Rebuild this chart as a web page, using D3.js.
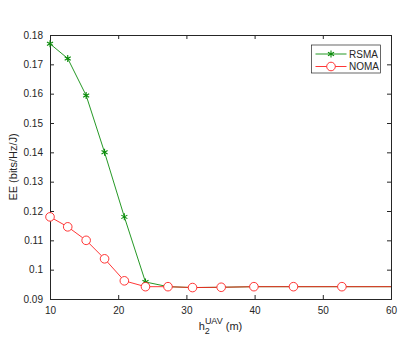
<!DOCTYPE html>
<html>
<head>
<meta charset="utf-8">
<script src="https://cdn.jsdelivr.net/npm/d3@7"></script>
<style>
  body { margin: 0; background: #fff; }
  text { font-family: "Liberation Sans", Arial, sans-serif; fill: #262626; }
</style>
</head>
<body>
<script>
// data
let heights = [10, 12.6, 15.3, 18.0, 20.9, 24.0, 27.3, 30.9, 35.1, 39.9, 45.7, 52.8, 61.3];
let rsma = [0.1770, 0.1720, 0.1594, 0.1400, 0.1180, 0.0958, 0.0942, 0.0939, 0.0940, 0.0942, 0.0942, 0.0942, 0.0942];
let noma = [0.1180, 0.1146, 0.1100, 0.1037, 0.0962, 0.0942, 0.0942, 0.0939, 0.0940, 0.0942, 0.0942, 0.0942, 0.0942];
let xTicks = [10, 20, 30, 40, 50, 60];
let yTicks = [0.09, 0.1, 0.11, 0.12, 0.13, 0.14, 0.15, 0.16, 0.17, 0.18];

let margin = {top: 35, right: 24, bottom: 48, left: 50},
    width = 415 - margin.left - margin.right,
    height = 347 - margin.top - margin.bottom;

let x = d3.scaleLinear().domain([10, 60]).range([0, width]);
let y = d3.scaleLinear().domain([0.09, 0.18]).range([height, 0]);

let svg = d3.select("body").append("svg")
    .attr("width", 415)
    .attr("height", 347)
  .append("g")
    .attr("transform", "translate(" + margin.left + "," + margin.top + ")");

svg.append("clipPath").attr("id", "clip")
  .append("rect").attr("width", width).attr("height", height);

let axisCol = "#262626";
function styleAxis(g) {
  g.select(".domain").attr("stroke", axisCol);
  g.selectAll(".tick line").attr("stroke", axisCol);
  g.selectAll(".tick text").style("font-size", "10px").attr("fill", axisCol);
}

// axes with inward ticks, box on all sides
svg.append("g")
    .attr("transform", "translate(0," + height + ")")
    .call(d3.axisBottom(x).tickValues(xTicks).tickSize(-4).tickPadding(8).tickFormat(d3.format("d")))
    .call(styleAxis);
svg.append("g")
    .call(d3.axisLeft(y).tickValues(yTicks).tickSize(-4).tickPadding(7).tickFormat(d => d3.format(".2~f")(d)))
    .call(styleAxis);
svg.append("g")
    .call(d3.axisTop(x).tickValues(xTicks).tickSize(-4).tickFormat(""))
    .call(styleAxis);
svg.append("g")
    .attr("transform", "translate(" + width + ",0)")
    .call(d3.axisRight(y).tickValues(yTicks).tickSize(-4).tickFormat(""))
    .call(styleAxis);

let plot = svg.append("g");
let line = d3.line().x(d => x(d[0])).y(d => y(d[1]));
let inView = d => d[0] <= 60;

let green = "#0c8c0c", red = "#ff2020";
let rsmaPts = heights.map((h, i) => [h, rsma[i]]);
let nomaPts = heights.map((h, i) => [h, noma[i]]);

plot.append("path").datum(rsmaPts)
    .attr("clip-path", "url(#clip)")
    .attr("fill", "none").attr("stroke", green).attr("stroke-width", 0.9)
    .attr("d", line);
let star = d3.symbol().type(d3.symbolAsterisk).size(34);
plot.selectAll(".star").data(rsmaPts.filter(inView)).enter().append("path")
    .attr("class", "star")
    .attr("transform", d => "translate(" + x(d[0]) + "," + y(d[1]) + ")")
    .attr("d", star).attr("fill", "none").attr("stroke", green).attr("stroke-width", 1.1);

plot.append("path").datum(nomaPts)
    .attr("clip-path", "url(#clip)")
    .attr("fill", "none").attr("stroke", red).attr("stroke-width", 0.9)
    .attr("d", line);
plot.selectAll(".circ").data(nomaPts.filter(inView)).enter().append("circle")
    .attr("class", "circ")
    .attr("cx", d => x(d[0])).attr("cy", d => y(d[1])).attr("r", 4.3)
    .attr("fill", "#fff").attr("stroke", red).attr("stroke-width", 0.9);

// labels
svg.append("text")
    .attr("transform", "translate(-33," + (height / 2) + ") rotate(-90)")
    .attr("text-anchor", "middle").style("font-size", "11px")
    .text("EE (bits/Hz/J)");
let xl = svg.append("text")
    .attr("x", width / 2).attr("y", height + 31)
    .attr("text-anchor", "middle").style("font-size", "11px");
xl.append("tspan").text("h");
xl.append("tspan").attr("dy", 4).style("font-size", "9px").text("2");
xl.append("tspan").attr("dx", -5).attr("dy", -10).style("font-size", "9px").text("UAV");
xl.append("tspan").attr("dy", 6).text(" (m)");

// legend
let lg = svg.append("g").attr("transform", "translate(" + (311.5 - margin.left) + "," + (45 - margin.top) + ")");
lg.append("rect").attr("width", 69).attr("height", 28)
    .attr("fill", "#fff").attr("stroke", axisCol).attr("stroke-width", 0.7);
let items = [["RSMA", green, "star"], ["NOMA", red, "circ"]];
items.forEach((it, i) => {
  let yy = 9 + i * 12.5;
  lg.append("line").attr("x1", 4).attr("x2", 35).attr("y1", yy).attr("y2", yy)
    .attr("stroke", it[1]).attr("stroke-width", 0.9);
  if (it[2] == "star") {
    lg.append("path").attr("transform", "translate(19.5," + yy + ")").attr("d", star)
      .attr("fill", "none").attr("stroke", it[1]).attr("stroke-width", 1.1);
  } else {
    lg.append("circle").attr("cx", 19.5).attr("cy", yy).attr("r", 4.3)
      .attr("fill", "#fff").attr("stroke", it[1]).attr("stroke-width", 0.9);
  }
  lg.append("text").attr("x", 37.5).attr("y", yy + 3.5).style("font-size", "10px").text(it[0]);
});
</script>
</body>
</html>
